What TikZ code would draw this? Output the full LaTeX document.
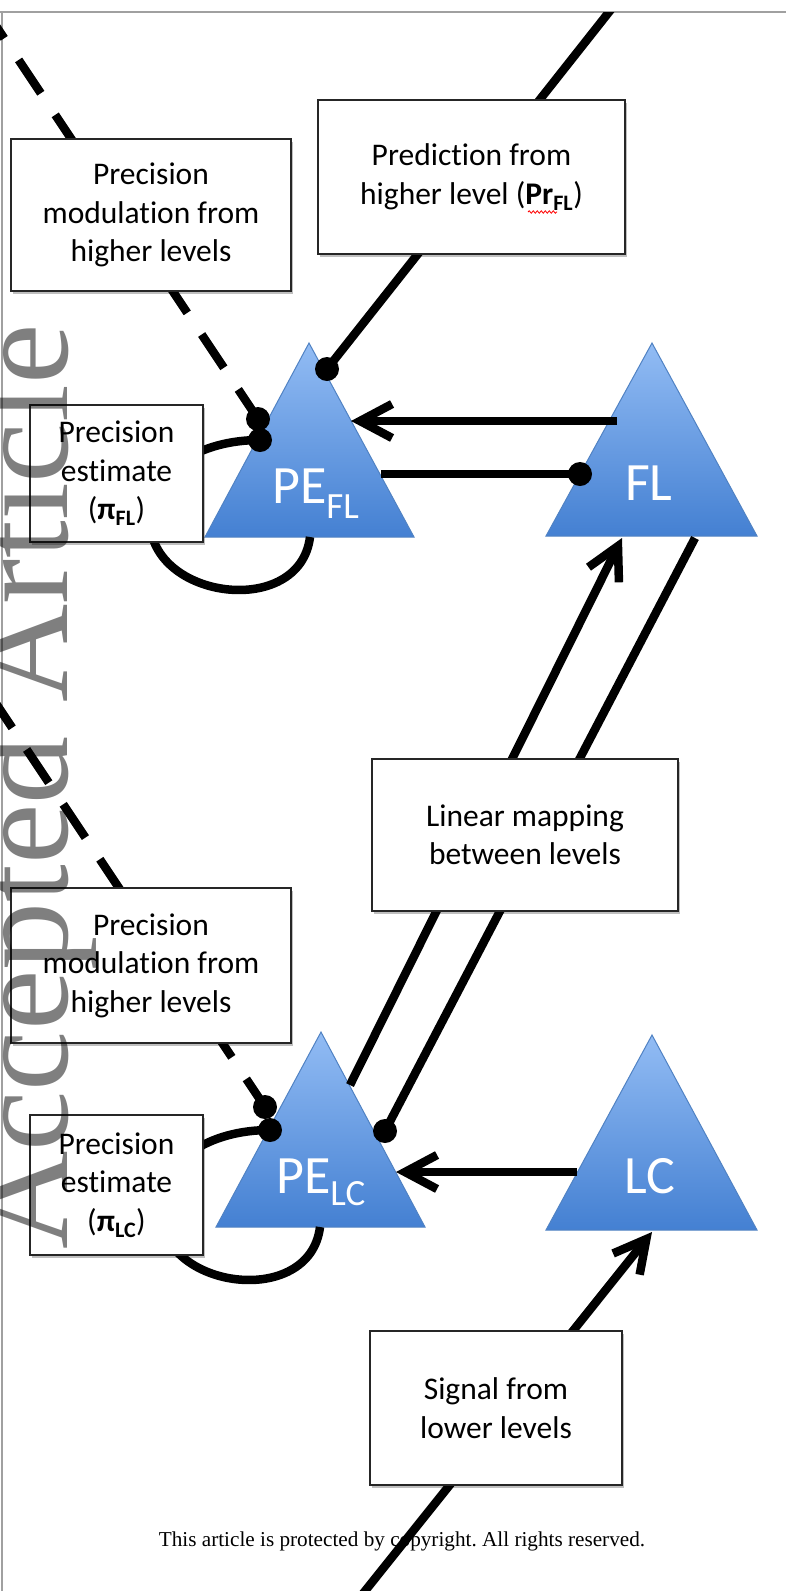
\documentclass[tikz,border=0pt]{standalone}
\usepackage{fontspec}
\setmainfont{Carlito}[Ligatures=NoCommon]
\newfontfamily\timesfont{Liberation Serif}
\usetikzlibrary{arrows.meta,shadows,decorations.pathmorphing}
\frenchspacing

\definecolor{triTop}{RGB}{146,188,244}
\definecolor{triBot}{RGB}{68,128,210}
\definecolor{triEdge}{RGB}{80,130,195}
\definecolor{frameGray}{RGB}{160,160,160}

\begin{document}
\begin{tikzpicture}[x=1pt,y=-1pt,
  conn/.style={line width=8.5pt, black},
  dashconn/.style={conn, dash pattern=on 40pt off 26pt},
  barb/.style={-{Straight Barb[length=32pt,width=34pt]}},
  labelbox/.style={draw=black!85, line width=1.3pt, fill=white, inner sep=0pt, align=center,
    font=\fontsize{31.5}{38.5}\selectfont,
    drop shadow={shadow xshift=2pt, shadow yshift=-3pt, opacity=0.25, fill=black}},
  trilabel/.style={text=white, inner sep=0pt, anchor=base west, font=\fontsize{54}{54}\selectfont},
  tri/.style={top color=triTop, bottom color=triBot, draw=triEdge, line width=1pt}
]
\useasboundingbox (0,0) rectangle (786,1591);

% page frame
\draw[frameGray, line width=2pt] (0,12) -- (786,12);
\draw[frameGray, line width=2pt] (2,12) -- (2,1591);

% triangles
\coordinate (PEFLa) at (309,343); \coordinate (PEFLl) at (205,537); \coordinate (PEFLr) at (414,537);
\coordinate (FLa) at (652,343); \coordinate (FLl) at (546,536); \coordinate (FLr) at (757,536);
\coordinate (PELCa) at (321,1032); \coordinate (PELCl) at (216,1227); \coordinate (PELCr) at (425,1227);
\coordinate (LCa) at (652,1035); \coordinate (LCl) at (546,1230); \coordinate (LCr) at (757,1230);
\shadedraw[tri] (PEFLa) -- (PEFLr) -- (PEFLl) -- cycle;
\shadedraw[tri] (FLa) -- (FLr) -- (FLl) -- cycle;
\shadedraw[tri] (PELCa) -- (PELCr) -- (PELCl) -- cycle;
\shadedraw[tri] (LCa) -- (LCr) -- (LCl) -- cycle;

\node[trilabel] (PEFL) at (272,503) {PE\raisebox{-15pt}{\fontsize{37}{37}\selectfont FL}};
\node[trilabel] (FL) at (625,500) {FL};
\node[trilabel] (PELC) at (276,1193) {PE\raisebox{-12pt}{\fontsize{37}{37}\selectfont LC}};
\node[trilabel] (LC) at (624,1193) {LC};

% footer
\node[font=\timesfont\fontsize{21.2}{24}\selectfont, anchor=base, inner sep=0pt] (foot) at (402,1546)
  {This article is protected by copyright. All rights reserved.};

% connector end points
\coordinate (prTop) at (618.5,0);
\coordinate (prDot) at (327,369);
\coordinate (pm1Start) at (-10,17);
\coordinate (pm1Dot) at (258,419);
\coordinate (loop1Dot) at (260,440);
\coordinate (loop1Mid) at (150,520);
\coordinate (loop1Base) at (310,537);
\coordinate (fbTail) at (617,421);
\coordinate (fbTip) at (351,421);
\coordinate (ffStart) at (381,474);
\coordinate (ffDot) at (580,474);
\coordinate (upTail) at (350,1085);
\coordinate (upTip) at (622,538);
\coordinate (downStart) at (695,538);
\coordinate (downDot) at (385,1131);
\coordinate (pm2Start) at (-10,694.5);
\coordinate (pm2Dot) at (265,1107);
\coordinate (loop2Dot) at (270,1130);
\coordinate (loop2Mid) at (160,1210);
\coordinate (loop2Base) at (320,1227);
\coordinate (lcTail) at (577,1172);
\coordinate (lcTip) at (396,1172);
\coordinate (sigTail) at (357,1601);
\coordinate (sigTip) at (652,1232);

\begin{scope}
\clip (0,12) rectangle (786,1591);
\draw[conn] (prTop) -- (prDot);
\draw[dashconn, dash phase=14.4pt] (pm1Start) -- (pm1Dot);
\draw[conn] (loop1Dot) .. controls +(-60,0) and +(0,-50) .. (loop1Mid)
  .. controls +(0,80) and +(-10,82) .. (loop1Base);
\draw[conn, barb] (fbTail) -- (fbTip);
\draw[conn] (ffStart) -- (ffDot);
\draw[conn, barb] (upTail) -- (upTip);
\draw[conn] (downStart) -- (downDot);
\draw[dashconn, dash phase=0pt] (pm2Start) -- (pm2Dot);
\draw[conn] (loop2Dot) .. controls +(-60,0) and +(0,-50) .. (loop2Mid)
  .. controls +(0,80) and +(-10,82) .. (loop2Base);
\draw[conn, barb] (lcTail) -- (lcTip);
\draw[conn, barb] (sigTail) -- (sigTip);
\end{scope}

% dots
\foreach \d in {prDot,pm1Dot,loop1Dot,ffDot,downDot,pm2Dot,loop2Dot}
  \fill (\d) circle (12pt);

% label boxes
\node[labelbox, minimum width=280pt, minimum height=152pt] (pmFL) at (151,215)
  {Precision\\modulation from\\higher levels};
\node[labelbox, minimum width=307pt, minimum height=154pt] (prFL) at (471.5,177)
  {Prediction from\\higher level (\textbf{Pr}\textsubscript{\textbf{FL}})};
\node[labelbox, minimum width=173pt, minimum height=137pt] (peFL) at (116.5,473.5)
  {Precision\\estimate\\(\textbf{π}\textsubscript{\textbf{FL}})};
\node[labelbox, minimum width=306pt, minimum height=152pt] (lin) at (525,835)
  {Linear mapping\\between levels};
\node[labelbox, minimum width=280pt, minimum height=155pt] (pmLC) at (151,965.5)
  {Precision\\modulation from\\higher levels};
\node[labelbox, minimum width=173pt, minimum height=140pt] (peLC) at (116.5,1185)
  {Precision\\estimate\\(\textbf{π}\textsubscript{\textbf{LC}})};
\node[labelbox, minimum width=252pt, minimum height=154pt] (sig) at (496,1408)
  {Signal from\\lower levels};

% spell-check squiggle
\draw[red, line width=0.8pt, decorate, decoration={snake, amplitude=1.2pt, segment length=4pt}]
  (528,212) -- (557,212);

% watermark
\node[font=\timesfont\fontsize{136}{136}\selectfont, rotate=90, anchor=base west, inner sep=0pt,
  text=black, text opacity=0.5] (wm) at (67,1250) {Accepted Article};
\end{tikzpicture}
\end{document}
